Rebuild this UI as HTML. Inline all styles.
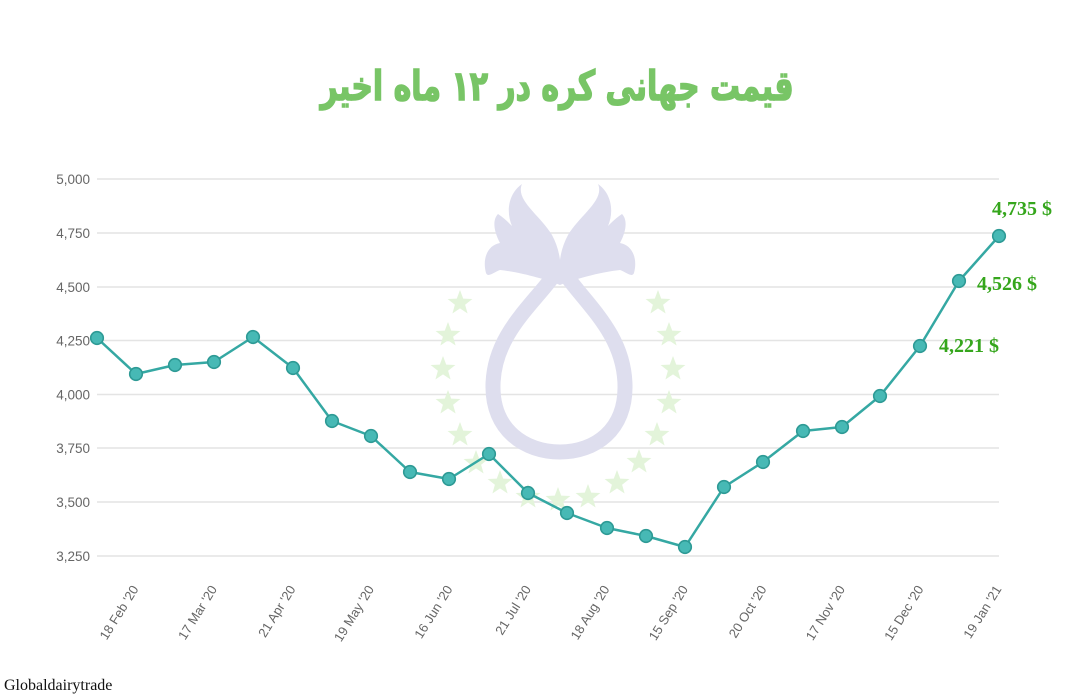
<!DOCTYPE html>
<html>
<head>
<meta charset="utf-8">
<style>
html,body{margin:0;padding:0;background:#fff;}
body{width:1087px;height:700px;position:relative;overflow:hidden;}
#title{position:absolute;left:0;top:56px;width:1087px;text-align:center;direction:rtl;
font-family:"DejaVu Sans",sans-serif;font-weight:bold;font-size:41px;color:#78c566;line-height:60px;}
#title span{display:inline-block;transform:translateX(14px) scaleX(0.73);-webkit-text-stroke:1.6px #78c566;}
svg{position:absolute;left:0;top:0;}
</style>
</head>
<body>
<svg width="1087" height="700" viewBox="0 0 1087 700" xmlns="http://www.w3.org/2000/svg">
  <defs>
    <polygon id="st" points="0,-13 3.2,-4.4 12.4,-4 5.1,1.7 7.6,10.5 0,5.4 -7.6,10.5 -5.1,1.7 -12.4,-4 -3.2,-4.4" fill="#e3f4da"/>
    <path id="wing" d="M560,285 C548,280 520,272 500,270 C494,272 488,278 486,273 C482,258 488,245 500,243 C494,232 492,220 498,214 C504,218 508,222 512,226 C506,212 508,194 522,184 C515,200 540,215 552,235 C560,250 562,265 560,285 Z" fill="#dedeee"/>
  </defs>
  <!-- gridlines -->
  <g stroke="#e4e4e4" stroke-width="1.5">
    <line x1="97" y1="179" x2="999" y2="179"/>
    <line x1="97" y1="233" x2="999" y2="233"/>
    <line x1="97" y1="287" x2="999" y2="287"/>
    <line x1="97" y1="340.5" x2="999" y2="340.5"/>
    <line x1="97" y1="394.5" x2="999" y2="394.5"/>
    <line x1="97" y1="448" x2="999" y2="448"/>
    <line x1="97" y1="502" x2="999" y2="502"/>
    <line x1="97" y1="556" x2="999" y2="556"/>
  </g>
  <!-- watermark -->
  <g>
    <use href="#st" x="460" y="303"/>
    <use href="#st" x="448" y="335"/>
    <use href="#st" x="443" y="369"/>
    <use href="#st" x="448" y="403"/>
    <use href="#st" x="460" y="435"/>
    <use href="#st" x="476" y="463"/>
    <use href="#st" x="500" y="483"/>
    <use href="#st" x="528" y="497"/>
    <use href="#st" x="558" y="500"/>
    <use href="#st" x="588" y="497"/>
    <use href="#st" x="617" y="483"/>
    <use href="#st" x="639" y="462"/>
    <use href="#st" x="657" y="435"/>
    <use href="#st" x="669" y="403"/>
    <use href="#st" x="673" y="369"/>
    <use href="#st" x="669" y="335"/>
    <use href="#st" x="658" y="303"/>
  </g>
  <path d="M560,266 C540,300 494,330 493,385 C492,430 525,452 560,452 C595,452 626,430 625,385 C624,330 580,300 560,266" fill="none" stroke="#dedeee" stroke-width="15"/>
  <use href="#wing"/>
  <use href="#wing" transform="translate(1120,0) scale(-1,1)"/>
  <!-- y labels -->
  <g font-family="Liberation Sans, sans-serif" font-size="13.5" fill="#666" text-anchor="end">
    <text x="90" y="184">5,000</text>
    <text x="90" y="238">4,750</text>
    <text x="90" y="292">4,500</text>
    <text x="90" y="345.5">4,250</text>
    <text x="90" y="399.5">4,000</text>
    <text x="90" y="453">3,750</text>
    <text x="90" y="507">3,500</text>
    <text x="90" y="561">3,250</text>
  </g>
  <!-- x labels -->
  <g font-family="Liberation Sans, sans-serif" font-size="13" fill="#666" text-anchor="end">
    <text transform="translate(139,589) rotate(-58)">18 Feb '20</text>
    <text transform="translate(217.5,589) rotate(-58)">17 Mar '20</text>
    <text transform="translate(296,589) rotate(-58)">21 Apr '20</text>
    <text transform="translate(374.5,589) rotate(-58)">19 May '20</text>
    <text transform="translate(453,589) rotate(-58)">16 Jun '20</text>
    <text transform="translate(531.5,589) rotate(-58)">21 Jul '20</text>
    <text transform="translate(610,589) rotate(-58)">18 Aug '20</text>
    <text transform="translate(688.5,589) rotate(-58)">15 Sep '20</text>
    <text transform="translate(767,589) rotate(-58)">20 Oct '20</text>
    <text transform="translate(845.5,589) rotate(-58)">17 Nov '20</text>
    <text transform="translate(924,589) rotate(-58)">15 Dec '20</text>
    <text transform="translate(1002,589) rotate(-58)">19 Jan '21</text>
  </g>
  <!-- series -->
  <polyline fill="none" stroke="#35a8a3" stroke-width="2.5" stroke-linejoin="round"
    points="97,338 136,374 175,365 214,362 253,337 293,368 332,421 371,436 410,472 449,479 489,454 528,493 567,513 607,528 646,536 685,547 724,487 763,462 803,431 842,427 880,396 920,346 959,281 999,236"/>
  <g fill="#47b9b5" stroke="#2e9a95" stroke-width="1.6">
    <circle cx="97" cy="338" r="6.3"/>
    <circle cx="136" cy="374" r="6.3"/>
    <circle cx="175" cy="365" r="6.3"/>
    <circle cx="214" cy="362" r="6.3"/>
    <circle cx="253" cy="337" r="6.3"/>
    <circle cx="293" cy="368" r="6.3"/>
    <circle cx="332" cy="421" r="6.3"/>
    <circle cx="371" cy="436" r="6.3"/>
    <circle cx="410" cy="472" r="6.3"/>
    <circle cx="449" cy="479" r="6.3"/>
    <circle cx="489" cy="454" r="6.3"/>
    <circle cx="528" cy="493" r="6.3"/>
    <circle cx="567" cy="513" r="6.3"/>
    <circle cx="607" cy="528" r="6.3"/>
    <circle cx="646" cy="536" r="6.3"/>
    <circle cx="685" cy="547" r="6.3"/>
    <circle cx="724" cy="487" r="6.3"/>
    <circle cx="763" cy="462" r="6.3"/>
    <circle cx="803" cy="431" r="6.3"/>
    <circle cx="842" cy="427" r="6.3"/>
    <circle cx="880" cy="396" r="6.3"/>
    <circle cx="920" cy="346" r="6.3"/>
    <circle cx="959" cy="281" r="6.3"/>
    <circle cx="999" cy="236" r="6.3"/>
  </g>
  <!-- value labels -->
  <g font-family="Liberation Serif, serif" font-weight="bold" font-size="20" fill="#35a61c">
    <text x="992" y="215">4,735 $</text>
    <text x="977" y="290">4,526 $</text>
    <text x="939" y="352">4,221 $</text>
  </g>
  <text x="4" y="690" font-family="Liberation Serif, serif" font-size="16" fill="#111">Globaldairytrade</text>
</svg>
<div id="title"><span>قیمت جهانی کره در ۱۲ ماه اخیر</span></div>
</body>
</html>
